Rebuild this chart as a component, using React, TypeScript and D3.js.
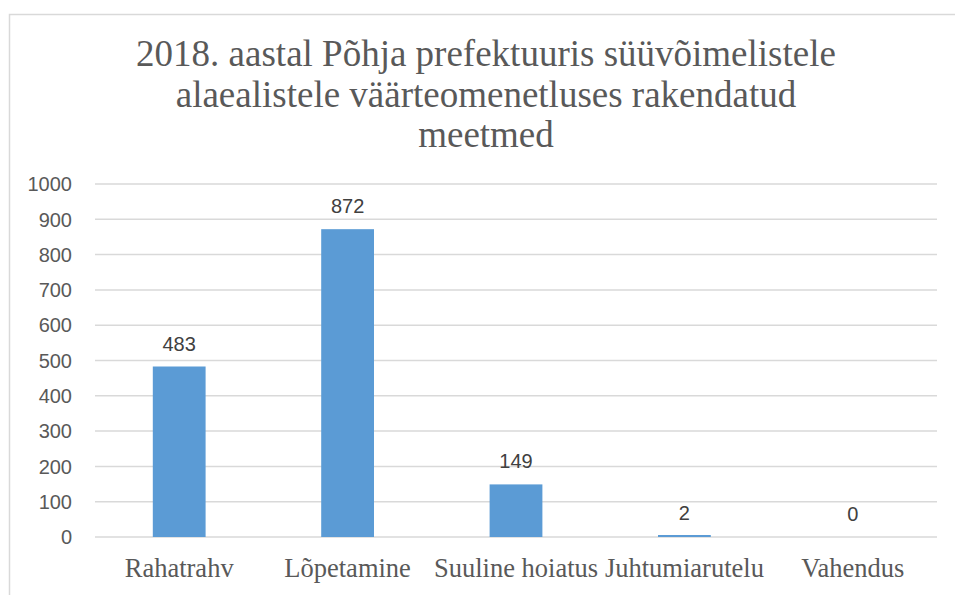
import { useEffect, useRef } from "react";
import * as d3 from "d3";

const titleLines = [
  "2018. aastal Põhja prefektuuris süüvõimelistele",
  "alaealistele väärteomenetluses rakendatud",
  "meetmed",
];
const categories = ["Rahatrahv", "Lõpetamine", "Suuline hoiatus", "Juhtumiarutelu", "Vahendus"];
const values = [483, 872, 149, 2, 0];
const yTicks = [0, 100, 200, 300, 400, 500, 600, 700, 800, 900, 1000];

export default function App() {
  const ref = useRef<SVGSVGElement>(null);

  useEffect(() => {
    const svg = d3.select(ref.current);
    svg.selectAll("*").remove();

    const W = 955;
    const H = 595;
    const left = 95;
    const right = 937;
    const top = 184;
    const bottom = 537;

    // chart frame (cropped on right and bottom)
    svg
      .append("rect")
      .attr("x", 9.5)
      .attr("y", 14.5)
      .attr("width", W + 20)
      .attr("height", H + 20)
      .attr("fill", "#fff")
      .attr("stroke", "#d9d9d9")
      .attr("stroke-width", 1.5);

    // title
    svg
      .append("g")
      .selectAll("text")
      .data(titleLines)
      .enter()
      .append("text")
      .attr("x", 486)
      .attr("y", (_, i) => 66 + i * 40.5)
      .attr("text-anchor", "middle")
      .attr("font-family", "'Liberation Serif', 'Times New Roman', serif")
      .attr("font-size", 37)
      .attr("fill", "#595959")
      .text(d => d);

    const x = d3.scaleBand<string>().domain(categories).range([left, right]).paddingInner(0).paddingOuter(0);
    const y = d3.scaleLinear().domain([0, 1000]).range([bottom, top]);
    const barW = x.bandwidth() / 3.19;

    // gridlines
    svg
      .append("g")
      .selectAll("line")
      .data(yTicks)
      .enter()
      .append("line")
      .attr("x1", left)
      .attr("x2", right)
      .attr("y1", d => y(d))
      .attr("y2", d => y(d))
      .attr("stroke", "#d9d9d9")
      .attr("stroke-width", 1.5);

    // y labels
    svg
      .append("g")
      .selectAll("text")
      .data(yTicks)
      .enter()
      .append("text")
      .attr("x", 72)
      .attr("y", d => y(d))
      .attr("dy", "0.36em")
      .attr("text-anchor", "end")
      .attr("font-family", "'Liberation Sans', Arial, sans-serif")
      .attr("font-size", 20)
      .attr("fill", "#595959")
      .text(d => d);

    // bars
    svg
      .append("g")
      .selectAll("rect")
      .data(values)
      .enter()
      .append("rect")
      .attr("x", (_, i) => (x(categories[i]) as number) + (x.bandwidth() - barW) / 2)
      .attr("y", d => (d > 0 ? Math.min(y(d), bottom - 2) : bottom))
      .attr("width", barW)
      .attr("height", d => (d > 0 ? Math.max(bottom - y(d), 2) : 0))
      .attr("fill", "#5b9bd5");

    // data labels
    svg
      .append("g")
      .selectAll("text")
      .data(values)
      .enter()
      .append("text")
      .attr("x", (_, i) => (x(categories[i]) as number) + x.bandwidth() / 2)
      .attr("y", d => y(d) - 16)
      .attr("text-anchor", "middle")
      .attr("font-family", "'Liberation Sans', Arial, sans-serif")
      .attr("font-size", 20)
      .attr("fill", "#404040")
      .text(d => d);

    // category labels
    svg
      .append("g")
      .selectAll("text")
      .data(categories)
      .enter()
      .append("text")
      .attr("x", d => (x(d) as number) + x.bandwidth() / 2)
      .attr("y", 577)
      .attr("text-anchor", "middle")
      .attr("font-family", "'Liberation Serif', 'Times New Roman', serif")
      .attr("font-size", 26.5)
      .attr("fill", "#595959")
      .text(d => d);
  }, []);

  return (
    <svg
      ref={ref}
      width={955}
      height={595}
      style={{ position: "absolute", left: 0, top: 0, display: "block" }}
    />
  );
}
